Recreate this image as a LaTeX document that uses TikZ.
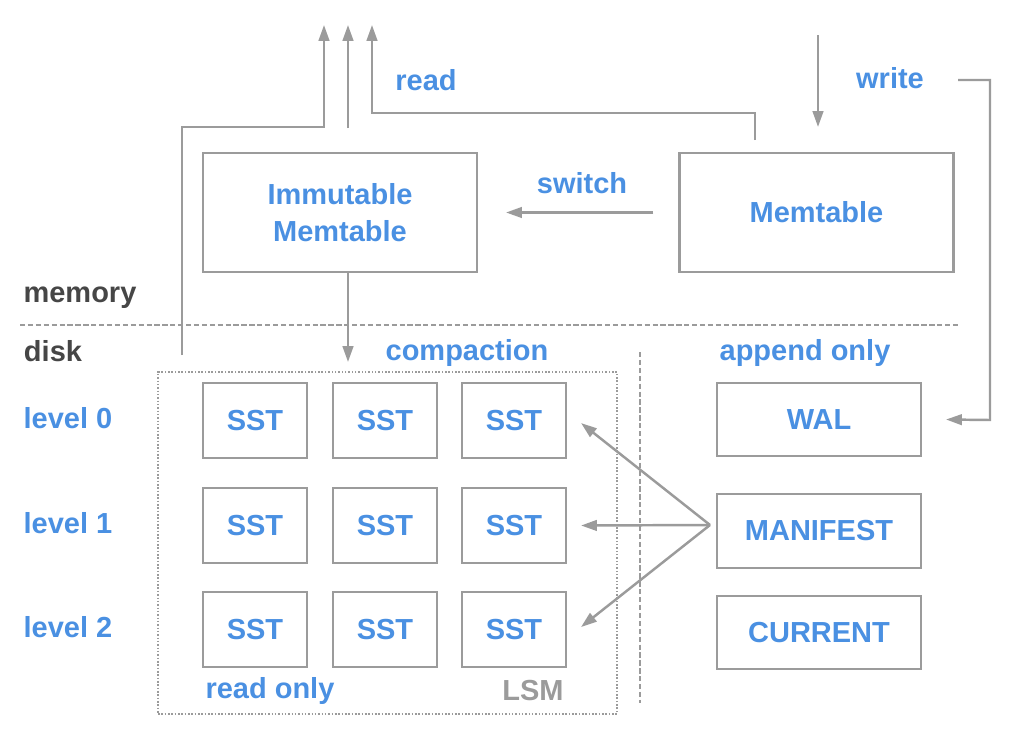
\documentclass[tikz,border=0pt]{standalone}
\usepackage{fontspec}
\setmainfont{Liberation Sans}
\usepackage{tikz}
\usetikzlibrary{fit,arrows.meta}
\definecolor{lblue}{RGB}{74,144,226}
\definecolor{lgray}{RGB}{155,155,155}
\definecolor{dgray}{RGB}{70,70,70}
\tikzstyle{box} = [draw=lgray, line width=1.2pt, text=lblue, inner sep=0pt, font={\bfseries\fontsize{16.5}{21}\selectfont}]
\tikzstyle{memt} = [box, minimum width=5.48cm, minimum height=2.38cm, align=center]
\tikzstyle{sst} = [box, minimum width=2.08cm, minimum height=1.5cm]
\tikzstyle{side} = [box, minimum width=4.08cm, minimum height=1.47cm]
\tikzstyle{lbl} = [text=lblue, font={\bfseries\fontsize{16.5}{20}\selectfont}]
\tikzstyle{zone} = [lbl, text=dgray]
\tikzstyle{arr} = [draw=lgray, line width=1.4pt, -{Triangle[length=9pt,width=6pt]}]

\begin{document}
\begin{tikzpicture}[x=0.02cm,y=-0.02cm]
    \useasboundingbox (0,0) rectangle (1024,730);
    \node[memt](imm) at (340,212.5){Immutable\\Memtable};
    \node[memt](mem) at (816.5,212.5){Memtable};
    \node[side](wal) at (819,419.5){WAL};
    \node[side](man) at (819,531){MANIFEST};
    \node[side](cur) at (819,632.5){CURRENT};
    \foreach \c/\x in {0/255,1/385,2/514}{
      \foreach \r/\y in {0/420.5,1/525.5,2/629.5}{
        \node[sst](s\r\c) at (\x,\y){SST};
      }
    }
    \node[lbl](rd) at (426,80){read};
    \node[lbl](wr) at (890,78){write};
    \node[lbl](sw) at (582,183){switch};
    \node[lbl](cp) at (467,353){compaction};
    \node[lbl](ap) at (805,353){append only};
    \node[lbl](ro) at (270,691){read only};
    \node[lbl,text=lgray](lsm) at (533,691){LSM};
    \node[zone](mm) at (80,298){memory};
    \node[zone](dk) at (53,351){disk};
    \node[lbl](l0) at (68,418){level 0};
    \node[lbl](l1) at (68,523){level 1};
    \node[lbl](l2) at (68,627){level 2};
    \coordinate (lsmtl) at (158,372);
    \coordinate (lsmbr) at (617,714);
    \node[draw=lgray,line width=0.9pt,densely dotted,inner sep=0pt,fit=(lsmtl)(lsmbr)](lsmbox){};
    \draw[lgray,line width=0.9pt,dash pattern=on 3pt off 1.5pt](20,325)--(958,325);
    \draw[lgray,line width=0.9pt,dash pattern=on 3pt off 1.5pt](640,352)--(640,703);
    % read paths
    \coordinate (r1) at (324,25);
    \coordinate (r2) at (348,25);
    \coordinate (r3) at (372,25);
    \coordinate (dsk) at (182,355);
    \coordinate (imtop) at (348,128);
    \coordinate (mtop) at (755,140);
    \draw[arr](dsk)--(182,127)--(324,127)--(r1);
    \draw[arr](imtop)--(r2);
    \draw[arr](mtop)--(755,113)--(372,113)--(r3);
    % write paths
    \coordinate (w0) at (818,35);
    \coordinate (w1) at (958,80);
    \draw[arr](w0)--([yshift=0.5cm]mem.north -| w0);
    \draw[arr](w1)--(990,80)--(990,420)--([xshift=0.48cm]wal.east);
    \draw[arr]([xshift=-0.5cm]mem.west)--([xshift=0.56cm]imm.east);
    \draw[arr](imm.south -| imtop)--(348,362);
    % manifest
    \coordinate (fan) at (710,525);
    \draw[arr](fan)--([xshift=0.28cm,yshift=-0.05cm]s02.east);
    \draw[arr](fan)--([xshift=0.28cm]s12.east);
    \draw[arr](fan)--([xshift=0.28cm,yshift=0.05cm]s22.east);
  \end{tikzpicture}
\end{document}
